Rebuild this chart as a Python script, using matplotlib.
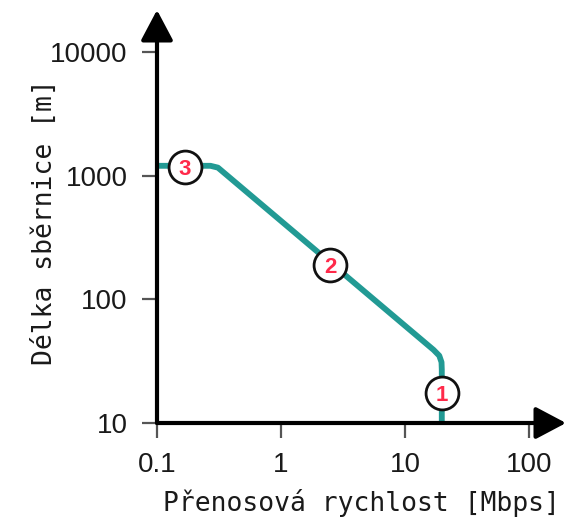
import matplotlib
matplotlib.use("Agg")
import matplotlib.pyplot as plt

# data
line_x = [0.1, 0.27, 0.31, 17.0, 18.9, 19.7, 19.8, 19.8]
line_y = [1200, 1200, 1160, 39, 35, 31, 27, 10]
marker_x = [19.8, 2.5, 0.168]
marker_y = [17.5, 188, 1167]
marker_labels = ["1", "2", "3"]
xticks = [0.1, 1, 10, 100]
xticklabels = ["0.1", "1", "10", "100"]
yticks = [10, 100, 1000, 10000]
yticklabels = ["10", "100", "1000", "10000"]

W, H = 567, 517
x0, y0 = 157, 423      # axes origin in pixels
x1, y1 = 566, 10       # arrow tips
fig = plt.figure(figsize=(W / 100, H / 100), dpi=100)
ax = fig.add_axes([x0 / W, (H - y0) / H, (x1 - x0) / W, (y0 - y1) / H])
ax.set_xscale("log")
ax.set_yscale("log")
ax.set_xlim(0.1, 10 ** ((x1 - x0) / 124 - 1))
ax.set_ylim(10, 10 ** (1 + (y0 - y1) / 123.7))

ax.plot(line_x, line_y, color="#229a94", lw=4.2, solid_joinstyle="round",
        solid_capstyle="butt", zorder=2)
ax.scatter(marker_x, marker_y, s=560, facecolor="white", edgecolor="#111111",
           linewidth=2, zorder=3)
for x, y, t in zip(marker_x, marker_y, marker_labels):
    ax.text(x, y, t, ha="center", va="center_baseline", color="#ff2a4a",
            fontsize=16, fontweight="bold", family="Liberation Sans", zorder=4)

for s in ax.spines.values():
    s.set_visible(False)

arrow = dict(arrowstyle="-|>,head_length=0.85,head_width=0.45",
             lw=3, color="black", shrinkA=0, shrinkB=0, mutation_scale=22)
ax.annotate("", xy=(1.0, 0), xytext=(0, 0), xycoords="axes fraction",
            arrowprops=arrow, zorder=5)
ax.annotate("", xy=(0, 1.0), xytext=(0, 0), xycoords="axes fraction",
            arrowprops=arrow, zorder=5)

ax.set_xticks(xticks)
ax.set_xticklabels(xticklabels)
ax.set_yticks(yticks)
ax.set_yticklabels(yticklabels)
ax.minorticks_off()
ax.tick_params(axis="both", direction="out", length=11, width=1.6, color="#555555",
               labelsize=20, pad=10)
for lab in ax.get_xticklabels() + ax.get_yticklabels():
    lab.set_family("Liberation Sans")
    lab.set_color("#1a1a1a")

ax.set_xlabel("Přenosová rychlost [Mbps]", family="DejaVu Sans Mono",
              fontsize=19, color="#1a1a1a")
ax.set_ylabel("Délka sběrnice [m]", family="DejaVu Sans Mono",
              fontsize=19, color="#1a1a1a")
ax.xaxis.label.set_verticalalignment("baseline")
ax.xaxis.set_label_coords((361 - x0) / (x1 - x0), -(511 - y0) / (y0 - y1),
                          transform=None)
ax.xaxis.label.set_position((361, H - 511))
ax.xaxis.label.set_transform(matplotlib.transforms.IdentityTransform())
ax.yaxis.label.set_verticalalignment("center")
ax.yaxis.label.set_position((25, H - 222))
ax.yaxis.label.set_transform(matplotlib.transforms.IdentityTransform())

fig.savefig("out.png", dpi=100)
